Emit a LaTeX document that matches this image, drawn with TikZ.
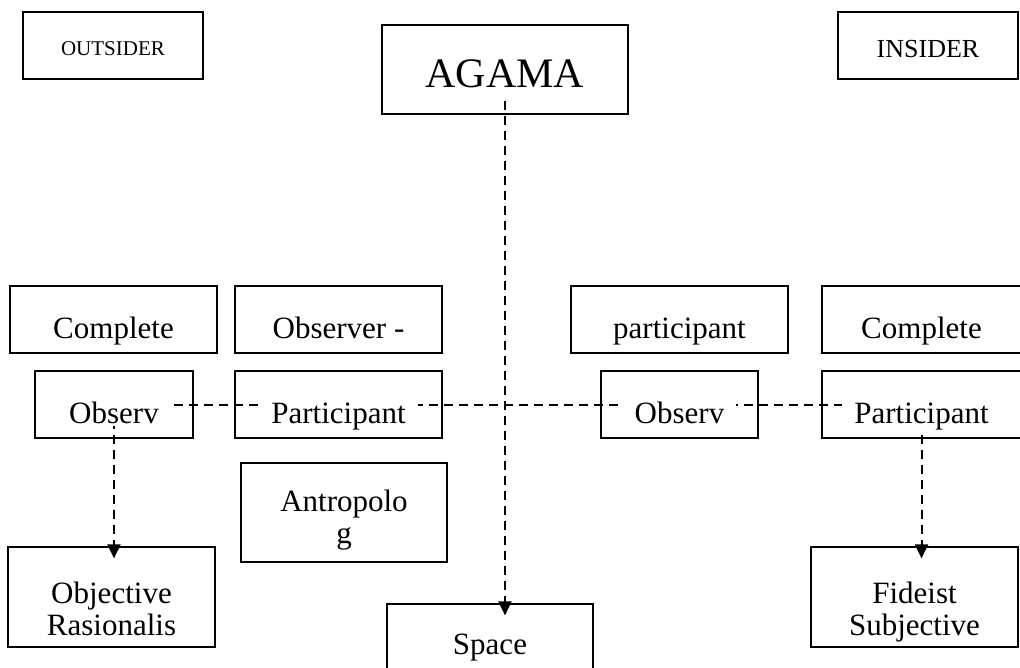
\documentclass[tikz,border=0pt]{standalone}
\usepackage{fontspec}
\setmainfont{Liberation Serif}
\usetikzlibrary{arrows.meta,backgrounds}

\newcommand{\txtbg}[1]{{\setlength{\fboxsep}{2pt}\colorbox{white}{\hspace{10pt}#1\hspace{10pt}}}}

\begin{document}
\begin{tikzpicture}[x=1pt,y=-1pt,
  box/.style={draw, line width=1.2pt, inner sep=0pt, align=center, font=\fontsize{31}{32}\selectfont},
  one/.style={minimum height=67pt, text height=45pt, text depth=7pt},
  two/.style={minimum height=100pt, text height=80pt, text depth=4pt},
  hline/.style={line width=2pt, dash pattern=on 9pt off 6pt},
  dline/.style={hline, -{Triangle[width=13pt,length=14pt]}, shorten >=-12pt}]

\useasboundingbox (0,0) rectangle (1020,668);
\clip (0,0) rectangle (1020,668);

\node[box, font=\fontsize{21}{24}\selectfont, minimum width=180pt, minimum height=67pt, text height=22pt, text depth=2pt] (outsider) at (113,45.5) {OUTSIDER};
\node[box, font=\fontsize{42}{48}\selectfont, minimum width=246pt, minimum height=89pt, text height=42pt, text depth=6pt] (agama) at (505,69.5) {AGAMA};
\node[box, font=\fontsize{26}{30}\selectfont, minimum width=180pt, minimum height=67pt, text height=28pt, text depth=3pt] (insider) at (928,45.5) {INSIDER};

\node[box, one, minimum width=207pt] (complete1) at (113.5,319.5) {Complete};
\node[box, one, minimum width=207pt] (observer) at (338.5,319.5) {Observer -};
\node[box, one, minimum width=217pt] (participant) at (679.5,319.5) {participant};
\node[box, one, minimum width=199pt] (complete2) at (921.5,319.5) {Complete};

\node[box, one, minimum width=158pt] (observ1) at (114,404.5) {\txtbg{Observ}};
\node[box, one, minimum width=207pt] (participant1) at (338.5,404.5) {\txtbg{Participant}};
\node[box, one, minimum width=157pt] (observ2) at (679.5,404.5) {\txtbg{Observ}};
\node[box, one, minimum width=199pt] (participant2) at (921.5,404.5) {\txtbg{Participant}};

\node[box, minimum width=206pt, minimum height=99pt, text height=66pt, text depth=5pt] (antropolog) at (344,512.5) {Antropolo\\g};
\node[box, two, minimum width=207pt] (objective) at (111.5,597) {Objective\\Rasionalis};
\node[box, two, minimum width=207pt] (fideist) at (914.5,597) {Fideist\\Subjective};
\node[box, minimum width=206pt, minimum height=88pt] (space) at (490,648) {Space};

\begin{scope}[on background layer]
\fill[white] (0,0) rectangle (1020,668);
\draw[hline] (observ1.center) -- (participant2.center);
\draw[dline] ([yshift=14pt]agama.south) -- (agama.south |- space.north);
\draw[dline] (observ1.center) -- (observ1.center |- objective.north);
\draw[dline] (participant2.center) -- (participant2.center |- fideist.north);
\end{scope}

\end{tikzpicture}
\end{document}
